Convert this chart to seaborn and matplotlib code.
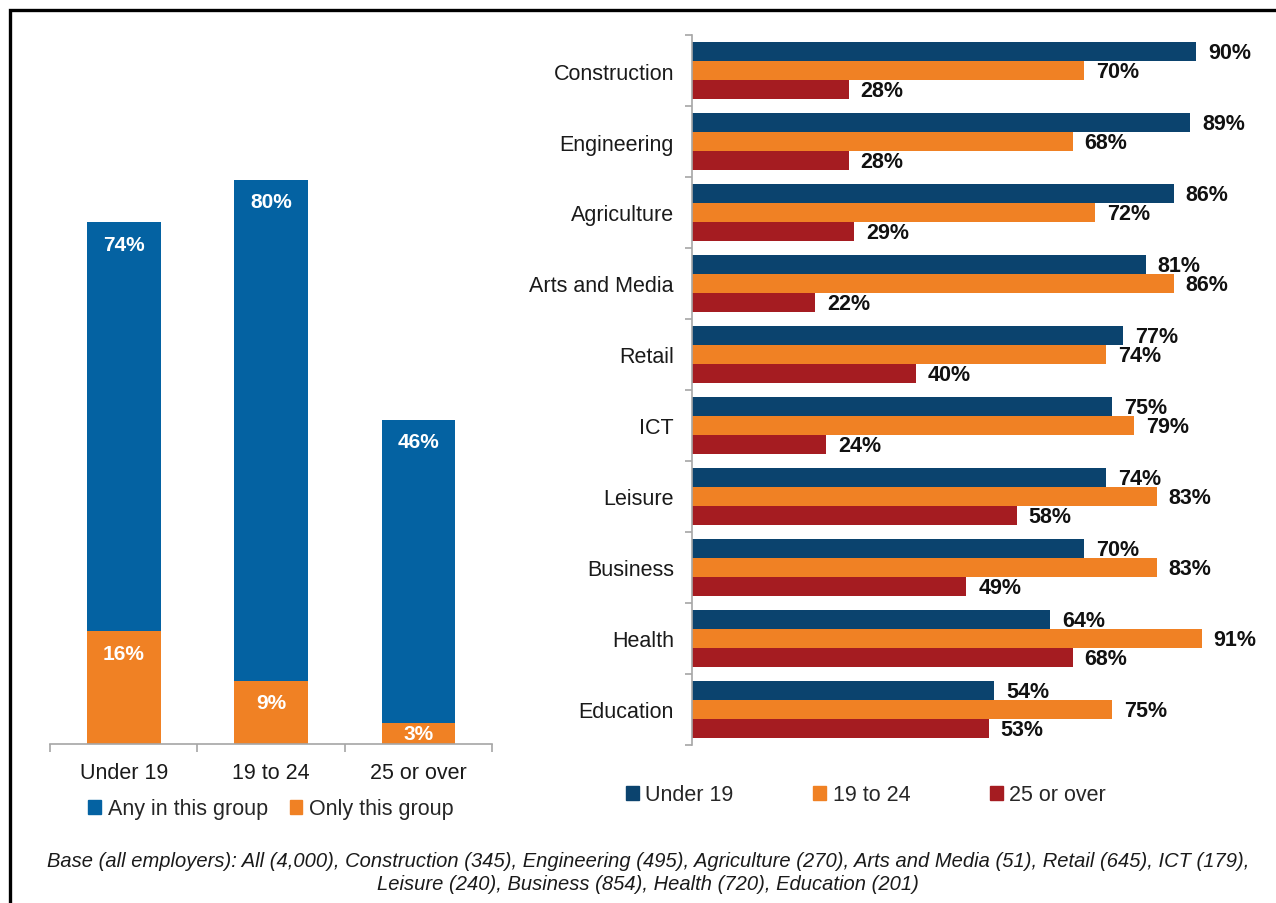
import matplotlib
matplotlib.use("Agg")
import matplotlib.pyplot as plt
from matplotlib.patches import Patch
from matplotlib.lines import Line2D
import seaborn as sns
import pandas as pd

# Left panel: age groups of apprentices employed
age_groups = ["Under 19", "19 to 24", "25 or over"]
any_in_group = [74, 80, 46]
only_this_group = [16, 9, 3]

# Right panel: share of employers with apprentices in each age group, by sector
sectors = ["Construction", "Engineering", "Agriculture", "Arts and Media", "Retail",
           "ICT", "Leisure", "Business", "Health", "Education"]
under_19 = [90, 89, 86, 81, 77, 75, 74, 70, 64, 54]
age_19_24 = [70, 68, 72, 86, 74, 79, 83, 83, 91, 75]
over_25 = [28, 28, 29, 22, 40, 24, 58, 49, 68, 53]

footnote = ("Base (all employers): All (4,000), Construction (345), Engineering (495), "
            "Agriculture (270), Arts and Media (51), Retail (645), ICT (179),\n"
            "Leisure (240), Business (854), Health (720), Education (201)")

BLUE = "#0462A2"
ORANGE = "#F08124"
NAVY = "#0B436E"
RED = "#A51C21"
AXIS_GREY = "#A6A6A6"
FS = 15.5

sns.set_theme(style="white")
plt.rcParams["font.family"] = ["Liberation Sans", "DejaVu Sans"]

W, H = 1276, 904
fig = plt.figure(figsize=(W / 100, H / 100), dpi=100)

# ---------- left panel ----------
axL = fig.add_axes([50 / W, 1 - 745 / H, 442 / W, 705 / H])
left_df = pd.DataFrame({"age": age_groups, "any": any_in_group, "only": only_this_group})
sns.barplot(data=left_df, x="age", y="any", color=BLUE, saturation=1, width=0.5,
            linewidth=0, ax=axL)
sns.barplot(data=left_df, x="age", y="only", color=ORANGE, saturation=1, width=0.5,
            linewidth=0, ax=axL)
axL.set_ylim(0, 100)
axL.set_xlim(-0.5, 2.5)
axL.set_xlabel("")
axL.set_ylabel("")
axL.set_yticks([])
for s in ["top", "right", "left"]:
    axL.spines[s].set_visible(False)
axL.spines["bottom"].set_color(AXIS_GREY)
axL.spines["bottom"].set_linewidth(1.2)
axL.set_xticks(range(len(age_groups)))
axL.set_xticklabels(age_groups, fontsize=FS, color="#1a1a1a")
axL.set_xticks([-0.5, 0.5, 1.5, 2.5], minor=True)
axL.tick_params(axis="x", which="major", length=0, pad=13)
axL.tick_params(axis="x", which="minor", length=6, width=1.2, color=AXIS_GREY, bottom=True)

for i, (a, o) in enumerate(zip(any_in_group, only_this_group)):
    for v in (a, o):
        y = max(v - 3.1, v / 2)
        axL.text(i, y, f"{v}%", ha="center", va="center", color="white",
                 fontsize=15, fontweight="bold")

fig.legend(handles=[Patch(color=BLUE, label="Any in this group"),
                    Patch(color=ORANGE, label="Only this group")],
           loc="center", bbox_to_anchor=(271 / W, 1 - 810 / H), ncol=2, frameon=False,
           fontsize=FS, handlelength=0.6, handleheight=0.6, handletextpad=0.3,
           columnspacing=1.0, borderpad=0)

# ---------- right panel ----------
axR = fig.add_axes([692 / W, 1 - 746 / H, 560 / W, 710 / H])
right_df = pd.DataFrame({
    "sector": sectors * 3,
    "value": under_19 + age_19_24 + over_25,
    "group": ["Under 19"] * 10 + ["19 to 24"] * 10 + ["25 or over"] * 10,
})
sns.barplot(data=right_df, y="sector", x="value", hue="group", orient="h",
            palette=[NAVY, ORANGE, RED], saturation=1, width=0.8, linewidth=0,
            legend=False, ax=axR)
axR.set_xlim(0, 100)
axR.set_ylim(9.5, -0.5)
axR.set_xlabel("")
axR.set_ylabel("")
axR.set_xticks([])
for s in ["top", "right", "bottom"]:
    axR.spines[s].set_visible(False)
axR.spines["left"].set_color(AXIS_GREY)
axR.spines["left"].set_linewidth(1.2)
axR.set_yticks(range(len(sectors)))
axR.set_yticklabels(sectors, fontsize=FS, color="#1a1a1a")
axR.set_yticks([k - 0.5 for k in range(len(sectors) + 1)], minor=True)
axR.tick_params(axis="y", which="major", length=0, pad=13)
axR.tick_params(axis="y", which="minor", length=5, width=1.2, color=AXIS_GREY, left=True)

bar_w = 0.8 / 3
for j, series in enumerate([under_19, age_19_24, over_25]):
    for i, v in enumerate(series):
        yc = i - 0.4 + bar_w * (j + 0.5)
        axR.annotate(f"{v}%", xy=(v, yc), xytext=(8.5, -0.5), textcoords="offset points",
                     ha="left", va="center", fontsize=FS, fontweight="bold",
                     color="#111111")

fig.legend(handles=[Patch(color=NAVY, label="Under 19"),
                    Patch(color=ORANGE, label="19 to 24"),
                    Patch(color=RED, label="25 or over")],
           loc="center", bbox_to_anchor=(866 / W, 1 - 796 / H), ncol=3, frameon=False,
           fontsize=FS, handlelength=0.6, handleheight=0.6, handletextpad=0.3,
           columnspacing=3.7, borderpad=0)

# ---------- footnote ----------
fig.text(648 / W, 1 - 873 / H, footnote, ha="center", va="center",
         multialignment="center", fontsize=14.5, style="italic", color="#1a1a1a",
         linespacing=1.25)

# ---------- outer frame (left and top edges) ----------
fx, fy = 9.5 / W, 1 - 10.5 / H
fig.add_artist(Line2D([fx, fx, 1.0], [0.0, fy, fy], transform=fig.transFigure,
                      color="black", linewidth=2.4, solid_joinstyle="miter"))

fig.savefig("out.png", dpi=100, facecolor="white")
